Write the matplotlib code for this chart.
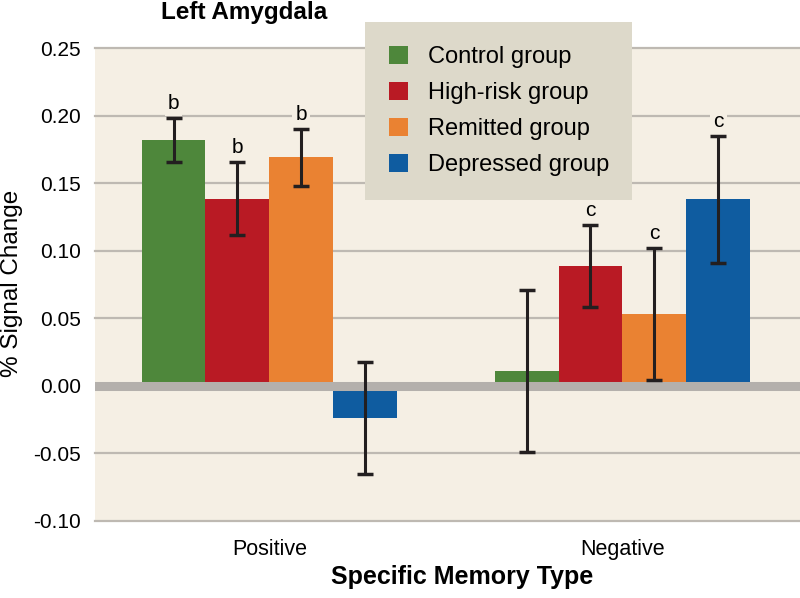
import matplotlib
matplotlib.use('Agg')
import matplotlib.pyplot as plt
import numpy as np

plt.rcParams['font.family'] = ['Liberation Sans', 'DejaVu Sans']

# data
categories = ['Positive', 'Negative']
groups = ['Control group', 'High-risk group', 'Remitted group', 'Depressed group']
control = [0.182, 0.011]
highrisk = [0.1385, 0.0885]
remitted = [0.169, 0.053]
depressed = [-0.024, 0.138]
control_err = [0.016, 0.060]
highrisk_err = [0.027, 0.0305]
remitted_err = [0.021, 0.049]
depressed_err = [0.0415, 0.047]
# significance letters per group (per category)
letters = [['b', ''], ['b', 'c'], ['b', 'c'], ['', 'c']]
yticks = [-0.10, -0.05, 0.00, 0.05, 0.10, 0.15, 0.20, 0.25]

colors = ['#4e873b', '#b91a24', '#ea8232', '#0f5ca0']
bg = '#f5efe4'

values = [control, highrisk, remitted, depressed]
errors = [control_err, highrisk_err, remitted_err, depressed_err]

fig = plt.figure(figsize=(8, 5.98), dpi=100)
ax = fig.add_axes([95/800, 1-521/598, 705/800, (521-48)/598])
ax.set_facecolor(bg)
for s in ax.spines.values():
    s.set_visible(False)

x = np.arange(len(categories))
w = 0.181
handles = []
for i in range(4):
    xi = x + (i - 1.5)*w
    h = ax.bar(xi, values[i], w, color=colors[i], zorder=2, label=groups[i])
    handles.append(h)
    ax.errorbar(xi, values[i], yerr=errors[i], fmt='none', ecolor='#231f20',
                elinewidth=2.2, capsize=6, capthick=2.5, zorder=4)
    for j in range(len(categories)):
        if letters[i][j]:
            ax.annotate(letters[i][j], (xi[j], values[i][j] + errors[i][j]),
                        xytext=(0, 6.5), textcoords='offset points',
                        ha='center', va='baseline', fontsize=15, zorder=5,
                        bbox=dict(boxstyle='square,pad=0.15', fc=bg, ec='none'))

for t in yticks:
    if abs(t) > 1e-9:
        ax.axhline(t, color='#beb9b2', lw=1.6, zorder=1, clip_on=False)
ax.axhline(0, color='#b4b0ac', lw=6.5, zorder=3)

ax.set_xlim(-0.494, 1.503)
ax.set_ylim(-0.10, 0.25)
ax.set_yticks(yticks)
ax.set_yticklabels(['%.2f' % t for t in yticks], fontsize=15)
ax.set_xticks(x)
ax.set_xticklabels(categories, fontsize=15.5)
ax.tick_params(axis='both', length=0)
ax.tick_params(axis='y', pad=10)
ax.tick_params(axis='x', pad=13)

fig.text(12/800, 1-283/598, '% Signal Change', rotation=90, ha='center', va='center', fontsize=17.5)
fig.text(462/800, 1-584/598, 'Specific Memory Type', ha='center', va='baseline',
         fontsize=18, fontweight='bold')
fig.text(244/800, 1-18.5/598, 'Left Amygdala', ha='center', va='baseline',
         fontsize=17.5, fontweight='bold')

leg = fig.legend(handles=handles, loc='upper left', bbox_to_anchor=(365/800, 1-22/598),
                 fontsize=17, frameon=True, fancybox=False, handlelength=0.8,
                 handleheight=0.8, handletextpad=0.85, labelspacing=0.59,
                 borderpad=1.0, borderaxespad=0)
leg.get_frame().set_facecolor('#ddd9ca')
leg.get_frame().set_edgecolor('none')
leg.get_frame().set_alpha(1)

fig.savefig('out.png', dpi=100, facecolor='white')
